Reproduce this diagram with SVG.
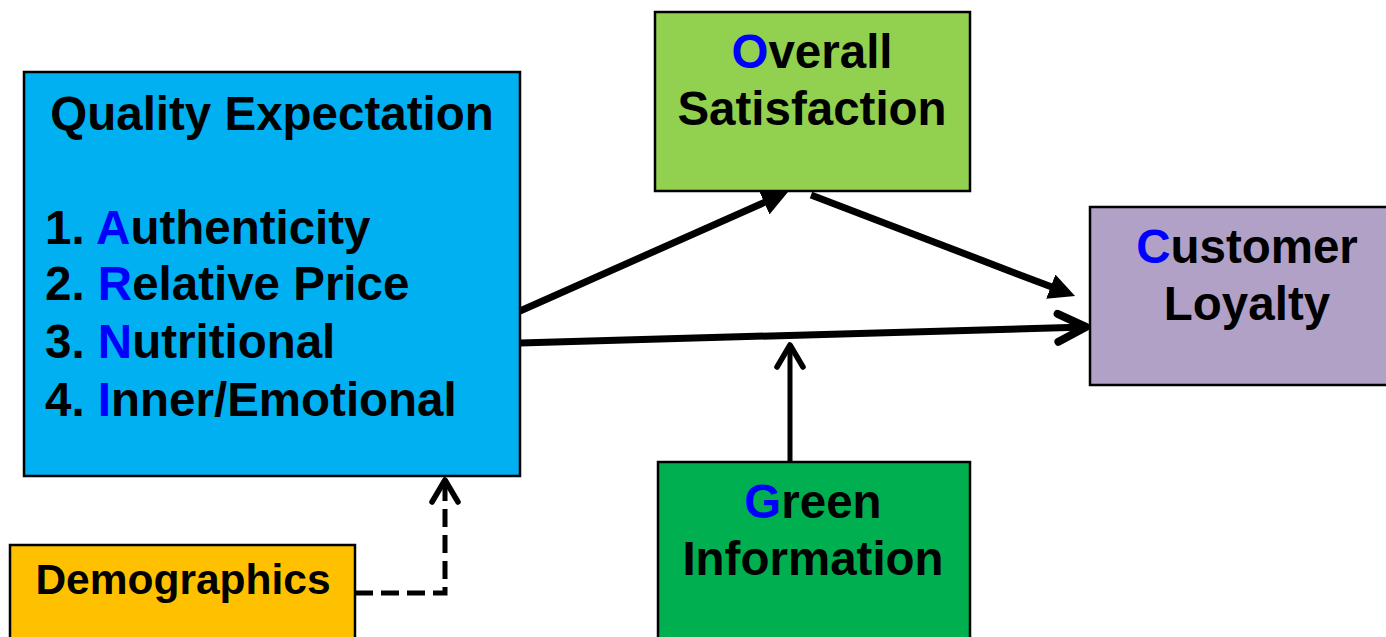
<svg xmlns="http://www.w3.org/2000/svg" width="1386" height="637" viewBox="0 0 1386 637">
<style>
.box{stroke:#000;stroke-width:2.5}
.t{font-family:"Liberation Sans",Arial,sans-serif;font-weight:bold;font-size:47.5px;fill:#000}
.b{fill:#0000ff}
.thick{stroke:#000;stroke-width:7;fill:none}
.thin{stroke:#000;stroke-width:5;fill:none}
</style>
<defs>
<marker id="tri" markerUnits="userSpaceOnUse" viewBox="0 0 26 26" markerWidth="26" markerHeight="26" refX="4" refY="13" orient="auto">
<path d="M0,0 L26,13 L0,26 Z" fill="#000"/>
</marker>
<marker id="chevBig" markerUnits="userSpaceOnUse" markerWidth="40" markerHeight="40" refX="0" refY="0" orient="auto" overflow="visible">
<path d="M-28,-14 L0,0 L-28,14" fill="none" stroke="#000" stroke-width="8" stroke-linecap="round" stroke-linejoin="round"/>
</marker>
<marker id="chevSmall" markerUnits="userSpaceOnUse" markerWidth="40" markerHeight="40" refX="0" refY="0" orient="auto" overflow="visible">
<path d="M-22,-13 L0,0 L-22,13" fill="none" stroke="#000" stroke-width="5.5" stroke-linecap="round" stroke-linejoin="round" stroke-dasharray="none"/>
</marker>
</defs>

<g id="quality">
<rect class="box" x="24" y="72" width="496" height="404" fill="#00b0f0"/>
<text class="t" x="272" y="130" text-anchor="middle">Quality Expectation</text>
<text class="t" x="45" y="244">1. <tspan class="b">A</tspan>uthenticity</text>
<text class="t" x="45" y="300">2. <tspan class="b">R</tspan>elative Price</text>
<text class="t" x="45" y="358">3. <tspan class="b">N</tspan>utritional</text>
<text class="t" x="45" y="416">4. <tspan class="b">I</tspan>nner/Emotional</text>
</g>

<g id="overall">
<rect class="box" x="655" y="12" width="315" height="179" fill="#92d050"/>
<text class="t" x="812" y="68" text-anchor="middle"><tspan class="b">O</tspan>verall</text>
<text class="t" x="812" y="125" text-anchor="middle">Satisfaction</text>
</g>

<g id="loyalty">
<rect class="box" x="1090" y="207" width="310" height="178" fill="#b2a1c7"/>
<text class="t" x="1247" y="263" text-anchor="middle"><tspan class="b">C</tspan>ustomer</text>
<text class="t" x="1247" y="320" text-anchor="middle">Loyalty</text>
</g>

<g id="green">
<rect class="box" x="658" y="462" width="312" height="190" fill="#00b050"/>
<text class="t" x="813" y="518" text-anchor="middle"><tspan class="b">G</tspan>reen</text>
<text class="t" x="813" y="575" text-anchor="middle">Information</text>
</g>

<g id="demographics">
<rect class="box" x="10" y="545" width="345" height="110" fill="#ffc000"/>
<text class="t" x="183" y="594" text-anchor="middle" style="font-size:42.5px">Demographics</text>
</g>

<g id="connectors">
<line class="thick" x1="520" y1="311" x2="767.9" y2="200.9" marker-end="url(#tri)"/>
<line class="thick" x1="811" y1="195" x2="1054.5" y2="288.1" marker-end="url(#tri)"/>
<line class="thick" x1="520" y1="343" x2="1086" y2="327" marker-end="url(#chevBig)"/>
<line class="thin" x1="790" y1="462" x2="790" y2="345" marker-end="url(#chevSmall)"/>
<polyline class="thin" points="355,593 445,593 445,480" stroke-dasharray="18,8" marker-end="url(#chevSmall)"/>
</g>
</svg>
